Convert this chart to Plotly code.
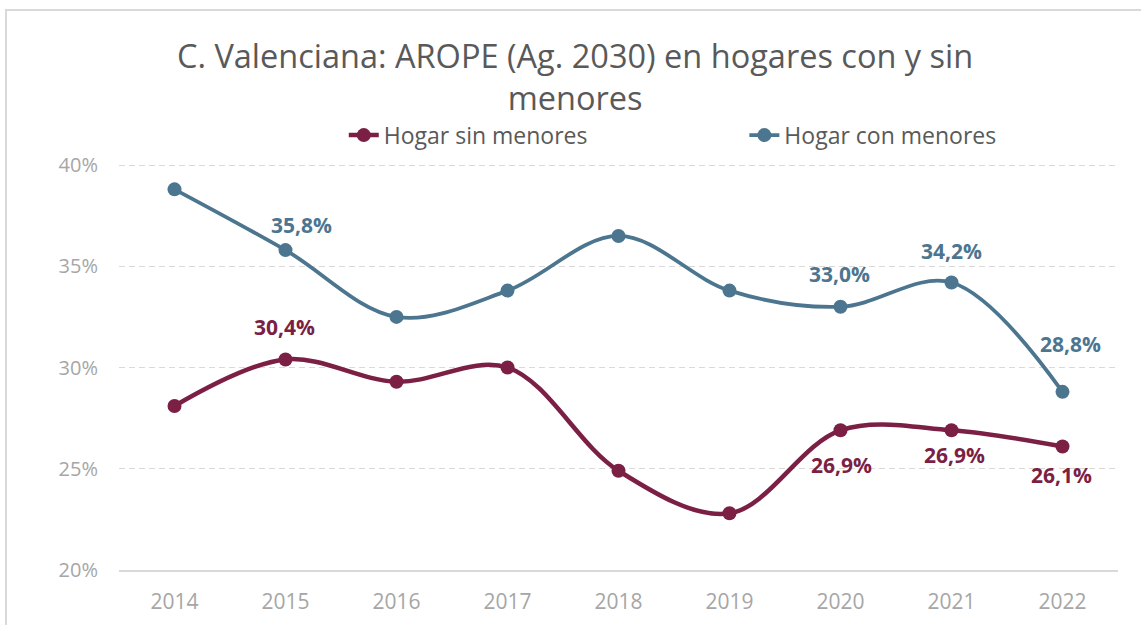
import plotly.graph_objects as go

years = ["2014", "2015", "2016", "2017", "2018", "2019", "2020", "2021", "2022"]
sin_menores = [28.1, 30.4, 29.3, 30.0, 24.9, 22.8, 26.9, 26.9, 26.1]
con_menores = [38.8, 35.8, 32.5, 33.8, 36.5, 33.8, 33.0, 34.2, 28.8]
sin_labels = ["", "30,4%", "", "", "", "", "26,9%", "26,9%", "26,1%"]
con_labels = ["", "35,8%", "", "", "", "", "33,0%", "34,2%", "28,8%"]
y_ticks = [20, 25, 30, 35, 40]
y_tick_text = ["20%", "25%", "30%", "35%", "40%"]

# label offsets in px (style only): (xshift, yshift)
sin_offsets = [(0, 0), (-1, 32), (0, 0), (0, 0), (0, 0), (0, 0), (1, -35), (3, -25), (-1, -28)]
con_offsets = [(0, 0), (16, 25), (0, 0), (0, 0), (0, 0), (0, 0), (-1, 33), (0, 32), (8, 48)]

RED = "#7B1F44"
BLUE = "#4C758F"
FONT = "Open Sans"

fig = go.Figure()
fig.add_trace(go.Scatter(
    x=years, y=sin_menores, name="Hogar sin menores",
    mode="lines+markers",
    line=dict(color=RED, width=4.5, shape="spline", smoothing=1.0),
    marker=dict(color=RED, size=14),
    hoverinfo="skip", legend="legend",
))
fig.add_trace(go.Scatter(
    x=years, y=con_menores, name="Hogar con menores",
    mode="lines+markers",
    line=dict(color=BLUE, width=3.8, shape="spline", smoothing=1.0),
    marker=dict(color=BLUE, size=14),
    hoverinfo="skip", legend="legend2",
))

for series, labels, offsets, color in [
    (sin_menores, sin_labels, sin_offsets, RED),
    (con_menores, con_labels, con_offsets, BLUE),
]:
    for i, (yv, lab, (dx, dy)) in enumerate(zip(series, labels, offsets)):
        if not lab:
            continue
        fig.add_annotation(
            x=i, y=yv, xref="x", yref="y", text="<b>" + lab + "</b>", showarrow=False,
            xanchor="center", yanchor="middle", xshift=dx, yshift=dy,
            font=dict(family=FONT, size=21, color=color),
        )

legend_style = dict(
    orientation="h", xanchor="left", y=1.058, yanchor="middle",
    font=dict(family=FONT, size=23, color="#595959"),
    itemwidth=30, bgcolor="rgba(0,0,0,0)",
)

fig.update_layout(
    width=1141, height=625,
    margin=dict(l=119, r=23, t=159, b=55, autoexpand=False),
    paper_bgcolor="white", plot_bgcolor="white",
    font=dict(family=FONT, color="#A6A6A6"),
    title=dict(
        text="C. Valenciana: AROPE (Ag. 2030) en hogares con y sin<br>menores",
        x=0.504, xanchor="center", y=1 - 68 / 625, yanchor="middle", yref="container",
        font=dict(family=FONT, size=32.5, color="#595959"),
    ),
    legend=dict(x=0.225, **legend_style),
    legend2=dict(x=0.626, **legend_style),
    showlegend=True,
    xaxis=dict(
        type="category", range=[-0.5, 8.5],
        showgrid=False, showline=True, linecolor="#D9D9D9", linewidth=2,
        ticks="", tickfont=dict(family=FONT, size=21, color="#A6A6A6"),
        ticklabelstandoff=12, fixedrange=True,
    ),
    yaxis=dict(
        range=[20, 40.3], tickvals=y_ticks, ticktext=y_tick_text,
        showgrid=True, gridcolor="#D9D9D9", gridwidth=1, griddash="6px,4px",
        zeroline=False, showline=False, ticks="",
        tickfont=dict(family=FONT, size=20, color="#A6A6A6"),
        ticklabelstandoff=20, fixedrange=True,
    ),
    shapes=[dict(
        type="rect", xref="paper", yref="paper",
        x0=(6 - 119) / 999, x1=1.2, y0=-0.3, y1=(570 - 10) / 411,
        line=dict(color="#D9D9D9", width=2), fillcolor="rgba(0,0,0,0)", layer="below",
    )],
)

fig.write_html(
    "out.html",
    config={"displayModeBar": False},
    post_script="document.body.style.margin='0';document.body.style.overflow='hidden';",
)
